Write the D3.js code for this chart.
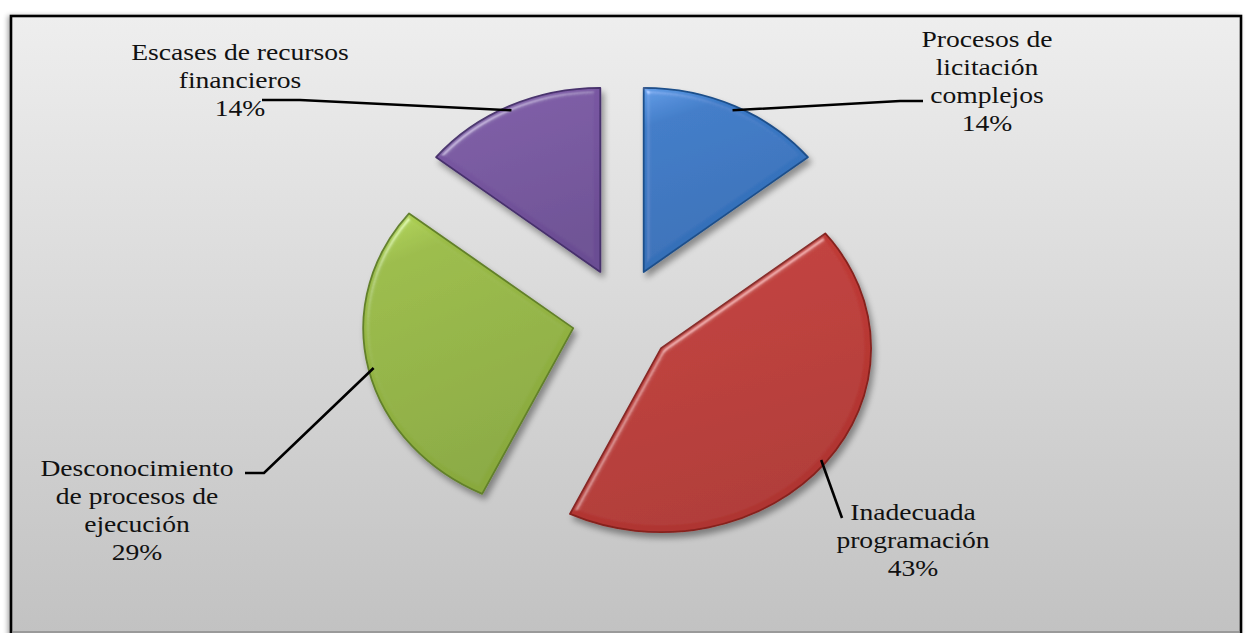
<!DOCTYPE html>
<html>
<head>
<meta charset="utf-8">
<script src="https://cdn.jsdelivr.net/npm/d3@7/dist/d3.min.js"></script>
<style>
  html, body { margin: 0; padding: 0; background: #ffffff; }
  svg { display: block; }
  .lbl { font-family: "Liberation Serif", "DejaVu Serif", serif; font-size: 24px; fill: #111; }
</style>
</head>
<body>
<svg id="chart" width="1246" height="633"></svg>
<script>
// Causes of delays, share of responses
const categories = [
  "Procesos de licitación complejos",
  "Inadecuada programación",
  "Desconocimiento de procesos de ejecución",
  "Escases de recursos financieros"
];
const values = [1, 3, 2, 1];
const labelLines = [
  ["Procesos de", "licitación", "complejos"],
  ["Inadecuada", "programación"],
  ["Desconocimiento", "de procesos de", "ejecución"],
  ["Escases de recursos", "financieros"]
];
const fills   = ["#3B7AC7", "#C13B37", "#9ABB46", "#7B59A4"];
const lights  = ["#5F9BE6", "#E0504B", "#B6DA58", "#9774C4"];
const strokes = ["#1F4F8A", "#86221F", "#62802A", "#47306C"];

// Layout: label block centre / first baseline, and leader elbows
const labelPos = [[987, 47], [913, 520], [137, 476], [240, 60]];
const leaderEnds = [
  [[900, 101], [923, 101]],
  [[842, 518]],
  [[264, 473], [245, 473]],
  [[300, 100], [262, 100]]
];

const cx = 622, cy = 317;
const ry = 184, rx = 210, sx = rx / ry;
const explode = 50;
const lineH = 28;

const svg = d3.select("#chart");
const defs = svg.append("defs");

// frame background
const bg = defs.append("linearGradient").attr("id", "bg")
  .attr("x1", 0).attr("y1", 0).attr("x2", 0).attr("y2", 1);
bg.append("stop").attr("offset", "0%").attr("stop-color", "#EEEEEE");
bg.append("stop").attr("offset", "100%").attr("stop-color", "#C1C1C1");

const frameShadow = defs.append("filter").attr("id", "frameShadow")
  .attr("x", "-2%").attr("y", "-2%").attr("width", "104%").attr("height", "104%");
frameShadow.append("feGaussianBlur").attr("in", "SourceAlpha").attr("stdDeviation", 2.5).attr("result", "b");
frameShadow.append("feOffset").attr("in", "b").attr("dx", -2).attr("dy", 1).attr("result", "o");
frameShadow.append("feComponentTransfer").attr("in", "o").attr("result", "s")
  .append("feFuncA").attr("type", "linear").attr("slope", 0.35);
const fm = frameShadow.append("feMerge");
fm.append("feMergeNode").attr("in", "s");
fm.append("feMergeNode").attr("in", "SourceGraphic");

svg.append("rect")
  .attr("x", 11).attr("y", 16).attr("width", 1230).attr("height", 630)
  .attr("fill", "url(#bg)")
  .attr("stroke", "#000").attr("stroke-width", 2.6)
  .attr("filter", "url(#frameShadow)");
svg.append("line")
  .attr("x1", 12).attr("x2", 1240).attr("y1", 632).attr("y2", 632)
  .attr("stroke", "#8c8c8c").attr("stroke-width", 1.5);

// bevel + drop shadow for the slices
const bevel = defs.append("filter").attr("id", "bevel")
  .attr("x", "-15%").attr("y", "-15%").attr("width", "135%").attr("height", "135%");
bevel.append("feGaussianBlur").attr("in", "SourceAlpha").attr("stdDeviation", 3).attr("result", "blur");
const spec = bevel.append("feSpecularLighting").attr("in", "blur")
  .attr("surfaceScale", 4).attr("specularConstant", 0.7).attr("specularExponent", 40)
  .attr("lighting-color", "#ffffff").attr("result", "spec");
spec.append("feDistantLight").attr("azimuth", 235).attr("elevation", 45);
bevel.append("feComposite").attr("in", "spec").attr("in2", "SourceAlpha").attr("operator", "in").attr("result", "specIn");
bevel.append("feComposite").attr("in", "SourceGraphic").attr("in2", "specIn")
  .attr("operator", "arithmetic").attr("k1", 0).attr("k2", 1).attr("k3", 0.45).attr("k4", 0).attr("result", "lit");
bevel.append("feGaussianBlur").attr("in", "SourceAlpha").attr("stdDeviation", 3).attr("result", "sb");
bevel.append("feOffset").attr("in", "sb").attr("dx", 3).attr("dy", 5).attr("result", "so");
bevel.append("feComponentTransfer").attr("in", "so").attr("result", "shadow")
  .append("feFuncA").attr("type", "linear").attr("slope", 0.38);
const bm = bevel.append("feMerge");
bm.append("feMergeNode").attr("in", "shadow");
bm.append("feMergeNode").attr("in", "lit");

fills.forEach((c, i) => {
  const g = defs.append("linearGradient").attr("id", "grad" + i)
    .attr("x1", 0).attr("y1", 0).attr("x2", 0.3).attr("y2", 1);
  g.append("stop").attr("offset", "0%").attr("stop-color", lights[i]);
  g.append("stop").attr("offset", "20%").attr("stop-color", c);
  g.append("stop").attr("offset", "100%").attr("stop-color", d3.interpolateRgb(c, strokes[i])(0.3));
});

const total = d3.sum(values);
const pie = d3.pie().sort(null).value(d => d).startAngle(0).endAngle(2 * Math.PI);
const arcs = pie(values);
const arc = d3.arc().innerRadius(0).outerRadius(ry);

const slices = svg.append("g").attr("class", "slices");
arcs.forEach((a, i) => {
  const mid = (a.startAngle + a.endAngle) / 2;
  const ox = cx + explode * Math.sin(mid);
  const oy = cy - explode * Math.cos(mid);
  const g = slices.append("g")
    .attr("transform", `translate(${ox},${oy}) scale(${sx},1)`)
    .attr("filter", "url(#bevel)");
  g.append("path")
    .attr("d", arc(a))
    .attr("fill", `url(#grad${i})`)
    .attr("stroke", strokes[i])
    .attr("stroke-width", 1.8)
    .attr("stroke-linejoin", "round")
    .attr("vector-effect", "non-scaling-stroke");
  a.anchor = [ox + rx * 0.975 * Math.sin(mid), oy - ry * 0.975 * Math.cos(mid)];
});

// leader lines
const line = d3.line();
arcs.forEach((a, i) => {
  svg.append("path")
    .attr("d", line([a.anchor, ...leaderEnds[i]]))
    .attr("fill", "none")
    .attr("stroke", "#000")
    .attr("stroke-width", 2.6);
});

// labels
arcs.forEach((a, i) => {
  const pct = Math.round(values[i] / total * 100) + "%";
  const lines = labelLines[i].concat([pct]);
  const t = svg.append("g")
    .attr("transform", `translate(${labelPos[i][0]},${labelPos[i][1]}) scale(1.15,1)`)
    .append("text")
    .attr("class", "lbl")
    .attr("text-anchor", "middle");
  lines.forEach((l, k) => {
    t.append("tspan").attr("x", 0).attr("y", k * lineH).text(l);
  });
});
</script>
</body>
</html>
